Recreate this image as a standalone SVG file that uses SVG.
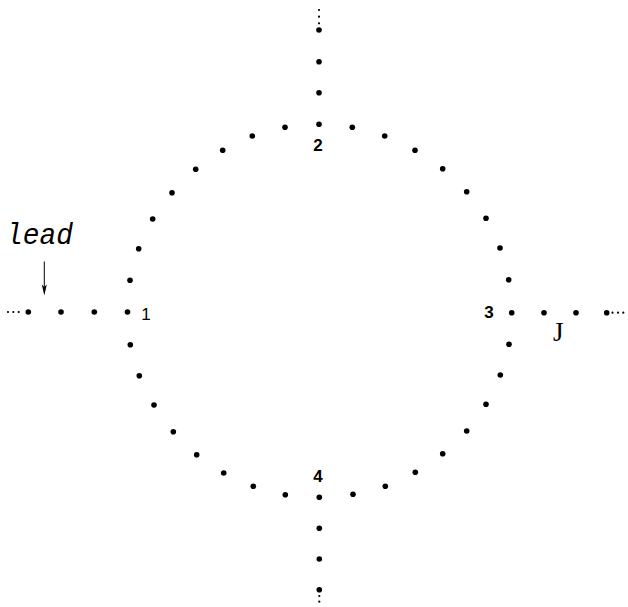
<svg xmlns="http://www.w3.org/2000/svg" width="628" height="607" viewBox="0 0 628 607">
<style>
.d{fill:#000}
.n{font-family:"Liberation Sans",Arial,sans-serif;font-weight:bold;font-size:17px;fill:#000}
.t{font-family:"Liberation Mono","Courier New",monospace;fill:#000}
</style>
<defs>
<circle id="dot" r="2.8"/>
<circle id="sd" r="1.1"/>
</defs>
<rect width="628" height="607" fill="#fff"/>

<g id="ring" class="d">
<use href="#dot" x="285" y="127.3"/><use href="#dot" x="252.3" y="136"/><use href="#dot" x="222.7" y="150.3"/><use href="#dot" x="195.7" y="169.3"/><use href="#dot" x="172" y="192.7"/><use href="#dot" x="152.7" y="219"/><use href="#dot" x="138.7" y="248.7"/><use href="#dot" x="130" y="280.3"/>
<use href="#dot" x="130.3" y="344.7"/><use href="#dot" x="139.3" y="375.7"/><use href="#dot" x="154" y="405"/><use href="#dot" x="173.3" y="431.7"/><use href="#dot" x="196.7" y="454.7"/><use href="#dot" x="223.7" y="473"/><use href="#dot" x="253.3" y="486.3"/><use href="#dot" x="285.3" y="494.7"/>
<use href="#dot" x="352.3" y="127.3"/><use href="#dot" x="384.7" y="136"/><use href="#dot" x="415" y="150.3"/><use href="#dot" x="442.7" y="168.7"/><use href="#dot" x="466.7" y="191.7"/><use href="#dot" x="486" y="218.3"/><use href="#dot" x="500" y="248"/><use href="#dot" x="508.7" y="279.7"/>
<use href="#dot" x="509" y="344.3"/><use href="#dot" x="500.3" y="375"/><use href="#dot" x="486" y="404.3"/><use href="#dot" x="466.7" y="431"/><use href="#dot" x="442.7" y="453.7"/><use href="#dot" x="415.3" y="472.3"/><use href="#dot" x="385.3" y="486.3"/><use href="#dot" x="353" y="494.3"/>
</g>

<g id="site1">
<use href="#dot" x="127.5" y="312"/>
<text x="146" y="320" font-family="'Liberation Sans',Arial,sans-serif" font-size="17" fill="#000" text-anchor="middle">1</text>
</g>
<g id="site2">
<use href="#dot" x="319" y="124.3"/>
<text class="n" x="318" y="150.5" text-anchor="middle">2</text>
</g>
<g id="site3">
<use href="#dot" x="511.7" y="312.7"/>
<text class="n" x="489" y="317.5" text-anchor="middle">3</text>
</g>
<g id="site4">
<use href="#dot" x="319.3" y="497.3"/>
<text class="n" x="318" y="481.5" text-anchor="middle">4</text>
</g>

<g id="lead-left">
<use href="#dot" x="28.3" y="312"/><use href="#dot" x="61" y="312"/><use href="#dot" x="94.3" y="312"/>
<use href="#sd" x="8" y="312"/><use href="#sd" x="13.3" y="312"/><use href="#sd" x="18.7" y="312"/>
<text class="t" x="6" y="243.5" font-size="29" font-style="italic" font-weight="300" textLength="67" lengthAdjust="spacingAndGlyphs">lead</text>
</g>
<g id="lead-right">
<use href="#dot" x="544" y="312.7"/><use href="#dot" x="576" y="312.7"/><use href="#dot" x="606.7" y="312.7"/>
<use href="#sd" x="612.5" y="312.7"/><use href="#sd" x="618" y="312.7"/><use href="#sd" x="623.3" y="312.7"/>
<text x="553" y="341" font-family="'Liberation Serif','Times New Roman',serif" font-size="27" fill="#000">J</text>
</g>
<g id="lead-top">
<use href="#dot" x="319" y="30"/><use href="#dot" x="319" y="61.7"/><use href="#dot" x="319" y="92.7"/>
<use href="#sd" x="319" y="10"/><use href="#sd" x="319" y="16.7"/><use href="#sd" x="319" y="23.3"/>
</g>
<g id="lead-bottom">
<use href="#dot" x="319.3" y="528.3"/><use href="#dot" x="319.3" y="559"/><use href="#dot" x="319.3" y="589.7"/>
<use href="#sd" x="319.3" y="596"/><use href="#sd" x="319.3" y="601.7"/>
</g>

<g id="connectors">
<line x1="44.3" y1="261.5" x2="44.3" y2="290" stroke="#000" stroke-width="1"/>
<polygon points="41.8,284.5 44.3,295.5 46.8,284.5 44.3,287" fill="#000"/>
</g>
</svg>
